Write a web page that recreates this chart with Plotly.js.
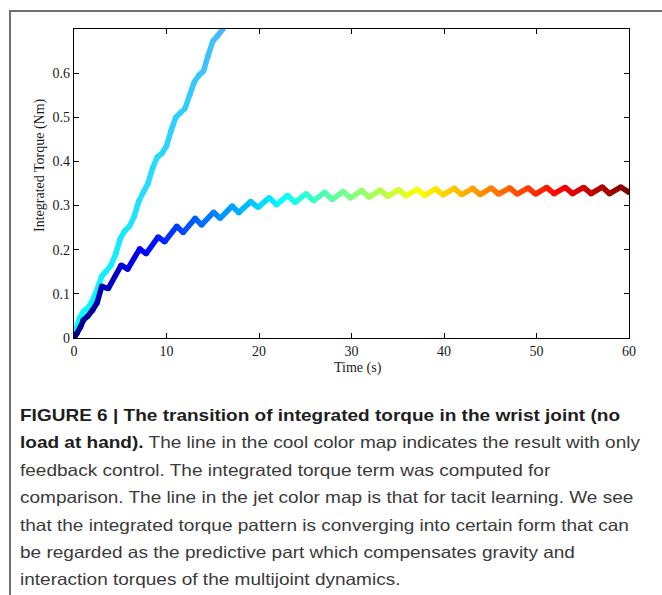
<!DOCTYPE html>
<html>
<head>
<meta charset="utf-8">
<script src="https://cdn.plot.ly/plotly-3.0.1.min.js"></script>
<style>
  html, body { margin:0; padding:0; background:#fff; }
  #wrap { position:relative; width:662px; height:595px; overflow:hidden; }
  #plot { position:absolute; left:0; top:0; width:662px; height:595px; }
  #frame { position:absolute; left:9px; top:10px; width:700px; height:700px;
           border-top:2px solid #707070; border-left:2px solid #707070; box-sizing:border-box; pointer-events:none; }
  #caption { position:absolute; left:20px; top:402px; transform-origin:0 0;
             font-family:"Liberation Sans","Arial",sans-serif; font-size:16.5px; line-height:27.4px;
             color:#3a3a3a; white-space:nowrap; }
  #caption b { color:#1e1e1e; font-weight:bold; }
</style>
</head>
<body>
<div id="wrap">
  <div id="plot"></div>
  <div id="frame"></div>
  <div id="caption">
    <div><b>FIGURE 6 | The transition of integrated torque in the wrist joint (no</b></div>
    <div id="capline2"><b>load at hand).</b> The line in the cool color map indicates the result with only</div>
    <div>feedback control. The integrated torque term was computed for</div>
    <div>comparison. The line in the jet color map is that for tacit learning. We see</div>
    <div>that the integrated torque pattern is converging into certain form that can</div>
    <div>be regarded as the predictive part which compensates gravity and</div>
    <div>interaction torques of the multijoint dynamics.</div>
  </div>
</div>
<script>
// ---- data ----
const coolTime = [0, 0.3, 0.6, 1.0, 1.5, 2.0, 2.5, 3.0, 3.5, 4.0, 4.5, 5.0, 5.5, 6.0, 6.5, 7.0, 7.5, 8.0, 8.5, 9.0, 9.5, 10.0, 10.5, 11.0, 11.5, 12.0, 12.5, 13.0, 13.5, 14.0, 14.5, 15.0, 15.5, 16.1];
const coolTorque = [0, 0.025, 0.045, 0.06, 0.068, 0.085, 0.11, 0.14, 0.152, 0.165, 0.19, 0.225, 0.243, 0.253, 0.275, 0.31, 0.33, 0.35, 0.385, 0.41, 0.418, 0.435, 0.47, 0.5, 0.51, 0.52, 0.55, 0.58, 0.595, 0.605, 0.64, 0.672, 0.684, 0.7];

const jetTime = [0, 0.3, 0.7, 1.0, 1.5, 2.0, 2.5, 3.0, 3.7, 5.1, 5.8, 7.1, 7.8, 9.1, 9.8, 11.1, 11.8, 13.1, 13.8, 15.1, 15.8, 17.1, 17.8, 19.1, 19.9, 21.1, 21.9, 23.1, 23.9, 25.1, 25.9, 27.1, 27.9, 29.1, 29.9, 31.1, 31.9, 33.1, 33.9, 35.1, 35.9, 37.1, 37.9, 39.1, 39.9, 41.1, 41.9, 43.1, 43.9, 45.1, 45.9, 47.1, 47.9, 49.1, 49.9, 51.1, 51.9, 53.1, 53.9, 55.1, 55.9, 57.1, 57.9, 59.1, 60];
const jetTorque = [0, 0.01, 0.025, 0.04, 0.05, 0.063, 0.08, 0.117, 0.112, 0.165, 0.156, 0.202, 0.191, 0.229, 0.218, 0.253, 0.239, 0.271, 0.256, 0.285, 0.271, 0.299, 0.284, 0.309, 0.296, 0.318, 0.302, 0.323, 0.307, 0.327, 0.311, 0.330, 0.314, 0.332, 0.317, 0.334, 0.319, 0.335, 0.321, 0.336, 0.322, 0.337, 0.323, 0.338, 0.324, 0.339, 0.325, 0.339, 0.325, 0.340, 0.326, 0.340, 0.326, 0.340, 0.326, 0.341, 0.327, 0.341, 0.327, 0.341, 0.327, 0.342, 0.327, 0.342, 0.330];

const xTicks = [0, 10, 20, 30, 40, 50, 60];
const yTicks = [0, 0.1, 0.2, 0.3, 0.4, 0.5, 0.6];
const yTickText = ['0', '0.1', '0.2', '0.3', '0.4', '0.5', '0.6'];
const xTitle = 'Time (s)';
const yTitle = 'Integrated Torque (Nm)';
const tMax = 60;

// ---- colormaps ----
function clamp(v) { return Math.max(0, Math.min(1, v)); }
function rgb(r, g, b) { return 'rgb(' + Math.round(r*255) + ',' + Math.round(g*255) + ',' + Math.round(b*255) + ')'; }
function jet(x) {
  return rgb(clamp(1.5 - Math.abs(4*x - 3)), clamp(1.5 - Math.abs(4*x - 2)), clamp(1.5 - Math.abs(4*x - 1)));
}
function cool(x) { return rgb(x, 1 - x, 1); }

const W = 5.5;
function colouredLine(t, y, cmap) {
  const out = [];
  for (let i = 0; i < t.length - 1; i++) {
    out.push({
      x: [t[i], t[i+1]], y: [y[i], y[i+1]], type: 'scatter', mode: 'lines',
      line: { color: cmap(((t[i] + t[i+1]) / 2) / tMax), width: W },
      hoverinfo: 'skip', showlegend: false
    });
  }
  out.push({
    x: t, y: y, type: 'scatter', mode: 'markers',
    marker: { size: W, color: t.map(v => cmap(v / tMax)), line: { width: 0 } },
    hoverinfo: 'skip', showlegend: false
  });
  return out;
}

const data = [].concat(colouredLine(coolTime, coolTorque, cool), colouredLine(jetTime, jetTorque, jet));

const axisFont = { family: '"Liberation Serif", "Times New Roman", serif', size: 14, color: '#1a1a1a' };
const layout = {
  width: 662, height: 595,
  margin: { l: 74, r: 33, t: 29, b: 257 },
  paper_bgcolor: 'rgba(0,0,0,0)', plot_bgcolor: '#fff',
  showlegend: false,
  xaxis: {
    range: [0, 60], tickvals: xTicks, ticktext: xTicks.map(String),
    ticks: 'inside', ticklen: 5, tickcolor: '#000', tickwidth: 1,
    showline: true, linecolor: '#000', linewidth: 1.3, mirror: 'ticks',
    showgrid: false, zeroline: false, tickfont: axisFont
  },
  yaxis: {
    range: [0, 0.7], tickvals: yTicks, ticktext: yTickText,
    ticks: 'inside', ticklen: 5, tickcolor: '#000', tickwidth: 1,
    showline: true, linecolor: '#000', linewidth: 1.3, mirror: 'ticks',
    showgrid: false, zeroline: false, tickfont: axisFont
  },
  annotations: [
    { text: xTitle, xref: 'paper', yref: 'paper', x: (358 - 74) / 555, y: (338 - 368) / 309,
      xanchor: 'center', yanchor: 'middle', showarrow: false, font: axisFont },
    { text: yTitle, xref: 'paper', yref: 'paper', x: (40 - 74) / 555, y: (338 - 165) / 309,
      xanchor: 'center', yanchor: 'middle', showarrow: false, textangle: -90, font: axisFont }
  ]
};

Plotly.newPlot('plot', data, layout, { staticPlot: true, displayModeBar: false }).then(() => {
  const cap = document.getElementById('caption');
  const ref = document.getElementById('capline2');
  const w = ref.getBoundingClientRect().width;
  cap.style.transform = 'scaleX(' + (620 / w) + ')';
});
</script>
</body>
</html>
